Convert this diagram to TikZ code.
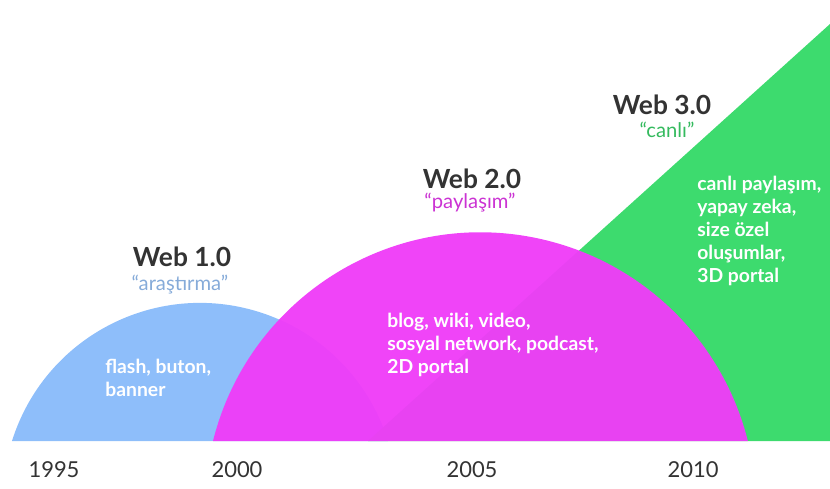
\documentclass[tikz,border=0pt]{standalone}
\usepackage{fontspec}
\setmainfont{Lato}
\usetikzlibrary{positioning}

\definecolor{webblue}{RGB}{142,190,250}
\definecolor{webpink}{RGB}{239,60,248}
\definecolor{webgreen}{RGB}{61,219,110}
\definecolor{titlegray}{RGB}{51,51,51}

\tikzset{
  title/.style={font=\bfseries\fontsize{15}{17}\selectfont, text=titlegray},
  sub/.style={font=\fontsize{11.5}{13}\selectfont},
  body/.style={font=\bfseries\fontsize{11}{13}\selectfont, text=white, align=left, anchor=west, inner sep=0pt},
  year/.style={font=\fontsize{12.5}{14}\selectfont, text=titlegray}
}

\begin{document}
\begin{tikzpicture}[x=0.02cm, y=0.02cm]

		\useasboundingbox (0,0) rectangle (830,488);

		% Web 1.0 and Web 3.0 areas
		\fill[webblue] (12,47) arc[start angle=162.6, end angle=17.4, radius=197] -- cycle;
		\fill[webgreen] (368,47) -- (830,464) -- (830,47) -- cycle;

		% Web 2.0 area on top
		\fill[webpink, opacity=0.96] (213,47) arc[start angle=165.93, end angle=14.07, radius=275.7] -- cycle;

		\node[title] (web1) at (182,231) {Web 1.0};
		\node[sub, text=webblue!85!black!90] (sub1) at (180,203) {“araştırma”};
		\node[body] (body1) at (105,110) {flash, buton,\\banner};

		\node[title] (web2) at (472,309) {Web 2.0};
		\node[sub, text=webpink!85!black] (sub2) at (470,285) {“paylaşım”};
		\node[body] (body2) at (387,143) {blog, wiki, video,\\sosyal network, podcast,\\2D portal};

		\node[title] (web3) at (662,383) {Web 3.0};
		\node[sub, text=webgreen!85!black] (sub3) at (667,358) {“canlı”};
		\node[body] (body3) at (697,257) {canlı paylaşım,\\yapay zeka,\\size özel\\oluşumlar,\\3D portal};

		\node[year] (y1995) at (54,18) {1995};
		\node[year] (y2000) at (237,18) {2000};
		\node[year] (y2005) at (472,18) {2005};
		\node[year] (y2010) at (693,18) {2010};

	\end{tikzpicture}
\end{document}
